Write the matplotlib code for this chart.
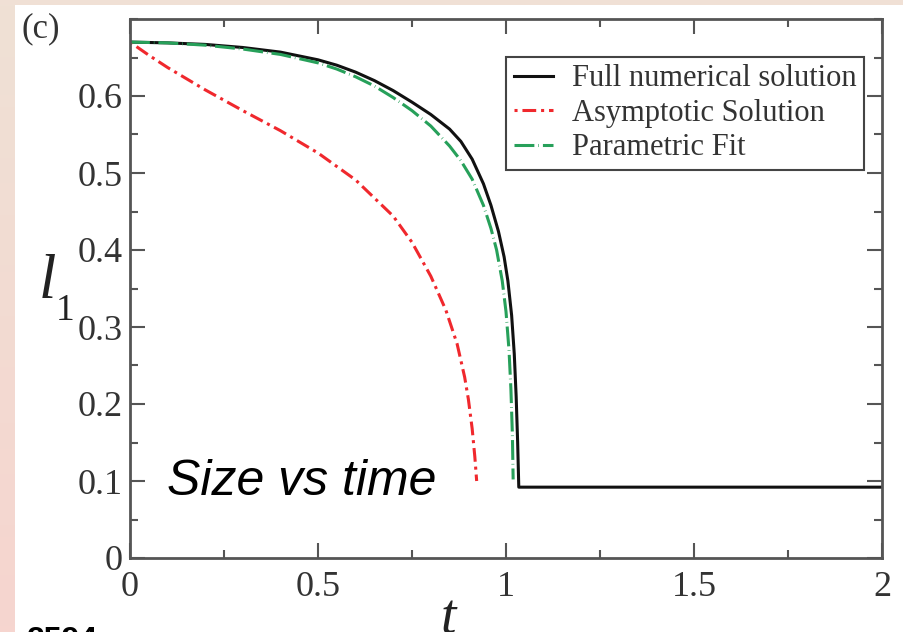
import numpy as np
import matplotlib
matplotlib.use("Agg")
import matplotlib.pyplot as plt
from matplotlib.ticker import MultipleLocator
from matplotlib.patches import Rectangle

plt.rcParams["font.family"] = ["Liberation Serif", "DejaVu Serif"]

# full numerical solution
t_full = [0, 0.1, 0.2, 0.3, 0.4, 0.5, 0.55, 0.6, 0.65, 0.7, 0.75, 0.8, 0.85,
          0.88, 0.91, 0.94, 0.96, 0.98, 0.995, 1.005, 1.015, 1.022, 1.027,
          1.031, 1.034, 1.5, 2.0]
l_full = [0.670, 0.669, 0.667, 0.663, 0.657, 0.647, 0.640, 0.631, 0.620,
          0.607, 0.592, 0.576, 0.557, 0.541, 0.518, 0.486, 0.458, 0.424,
          0.391, 0.360, 0.315, 0.265, 0.210, 0.150, 0.092, 0.092, 0.092]

# asymptotic solution
t_asym = [0, 0.05, 0.1, 0.2, 0.3, 0.4, 0.5, 0.6, 0.7, 0.75, 0.8, 0.84, 0.87,
          0.89, 0.9, 0.91, 0.917, 0.922]
l_asym = [0.670, 0.653, 0.637, 0.608, 0.581, 0.555, 0.526, 0.491, 0.444,
          0.410, 0.366, 0.322, 0.278, 0.235, 0.206, 0.168, 0.132, 0.100]

# parametric fit
t_fit = [0, 0.1, 0.2, 0.3, 0.4, 0.5, 0.55, 0.6, 0.65, 0.7, 0.75, 0.8, 0.85,
         0.88, 0.91, 0.94, 0.96, 0.975, 0.99, 1.0, 1.008, 1.013, 1.017, 1.019]
l_fit = [0.670, 0.669, 0.666, 0.661, 0.654, 0.643, 0.635, 0.625, 0.613,
         0.598, 0.581, 0.561, 0.535, 0.516, 0.492, 0.458, 0.428, 0.400,
         0.360, 0.320, 0.270, 0.220, 0.160, 0.102]

x_ticks = [0, 0.5, 1, 1.5, 2]
x_labels = ["0", "0.5", "1", "1.5", "2"]
y_ticks = [0, 0.1, 0.2, 0.3, 0.4, 0.5, 0.6]
y_labels = ["0", "0.1", "0.2", "0.3", "0.4", "0.5", "0.6"]

fig = plt.figure(figsize=(9.04, 6.32), dpi=100, facecolor="white")

# slide background strips
bg = fig.add_axes([0, 0, 15 / 904, 1])
grad = np.linspace(0, 1, 100).reshape(-1, 1)
cm = matplotlib.colors.LinearSegmentedColormap.from_list("bg", ["#efe1d5", "#f6d5cf"])
bg.imshow(grad, aspect="auto", cmap=cm, extent=[0, 1, 0, 1], origin="upper")
bg.axis("off")
fig.patches.append(Rectangle((0, 1 - 5 / 632), 1, 5 / 632, transform=fig.transFigure,
                             facecolor="#f0e0d5", edgecolor="none", zorder=0))

ax = fig.add_axes([130 / 904, 74 / 632, 752 / 904, 539 / 632])

ax.plot(t_full, l_full, color="#111111", lw=2.2, label="Full numerical solution")
ax.plot(t_asym, l_asym, color="#f0282d", lw=2.2, dashes=(1, 1.6, 4.5, 1.6),
        label="Asymptotic Solution")
ax.plot(t_fit, l_fit, color="#27a05a", lw=2.2, dashes=(6.5, 1.3, 0.2, 1.3),
        label="Parametric Fit")

ax.set_xlim(0, 2)
ax.set_ylim(0, 0.7)
ax.set_xticks(x_ticks)
ax.set_xticklabels(x_labels)
ax.set_yticks(y_ticks)
ax.set_yticklabels(y_labels)
ax.xaxis.set_minor_locator(MultipleLocator(0.25))
ax.yaxis.set_minor_locator(MultipleLocator(0.05))
ax.tick_params(which="both", direction="in", top=True, right=True,
               color="#555555", width=1.5, labelsize=26, labelcolor="#333333")
ax.tick_params(which="major", length=11)
ax.tick_params(axis="y", which="major", pad=5)
ax.tick_params(axis="x", which="major", pad=9)
ax.tick_params(which="minor", length=6)
for s in ax.spines.values():
    s.set_color("#555555")
    s.set_linewidth(2)

# y label l_1 drawn as two pieces
fig.text(47 / 904, 1 - 298 / 632, "l", fontsize=45, style="italic",
         ha="center", va="baseline", color="#222222")
fig.text(56 / 904, 1 - 320 / 632, "1", fontsize=27,
         ha="left", va="baseline", color="#222222")

leg = ax.legend(loc="upper right", bbox_to_anchor=(0.976, 0.93), fontsize=22,
                handlelength=1.3, handletextpad=0.6, labelspacing=0.18,
                borderpad=0.25, borderaxespad=0, fancybox=False, framealpha=1)
leg.get_frame().set_edgecolor("#444444")
leg.get_frame().set_linewidth(1.5)
for txt in leg.get_texts():
    txt.set_color("#333333")

fig.text(448 / 904, 1 - 594 / 632, "t", fontsize=40, style="italic",
         ha="center", va="top", color="#222222")
fig.text(22 / 904, 1 - 12 / 632, "(c)", fontsize=25, ha="left", va="top",
         color="#333333")
fig.text(167 / 904, 1 - 482 / 632, "Size vs time", fontsize=36, style="italic",
         family=["Liberation Sans", "DejaVu Sans"], ha="left", va="center",
         color="black")
fig.text(27 / 904, 1 - 626 / 632, "2594", fontsize=23, fontweight="bold",
         family=["Liberation Sans", "DejaVu Sans"], ha="left", va="top",
         color="black")

fig.savefig("out.png", dpi=100, facecolor="white")
